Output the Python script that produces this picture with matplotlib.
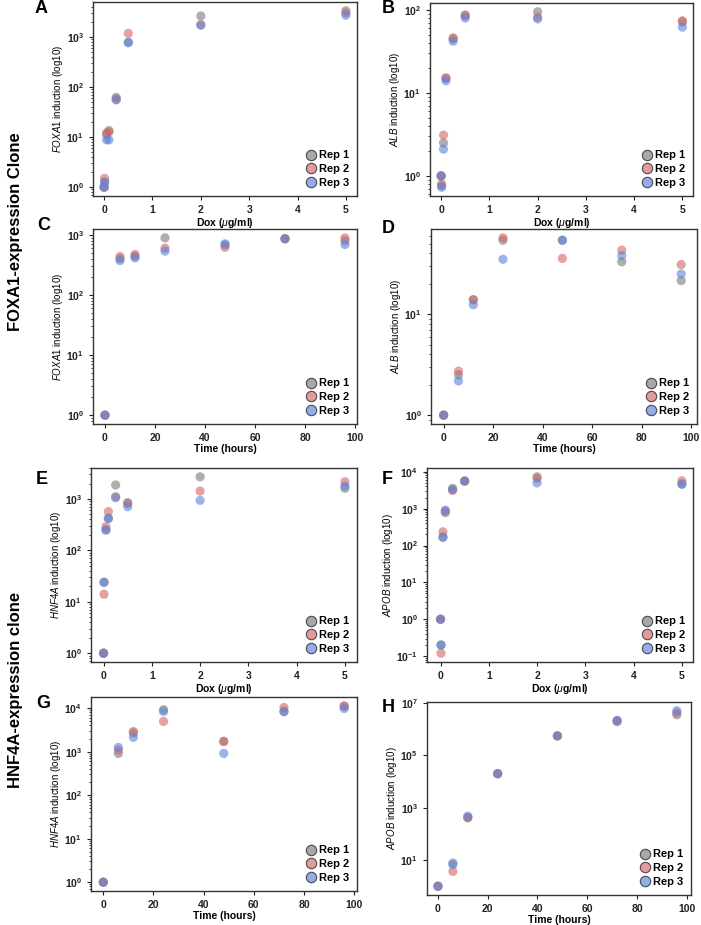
import numpy as np
import matplotlib
matplotlib.use("Agg")
import matplotlib.pyplot as plt
from matplotlib.ticker import FixedLocator, FuncFormatter, LogLocator, NullLocator

plt.rcParams['font.family'] = ['Liberation Sans', 'DejaVu Sans']
plt.rcParams['mathtext.fontset'] = 'custom'
plt.rcParams['mathtext.rm'] = 'Liberation Sans'
plt.rcParams['mathtext.it'] = 'Liberation Sans:italic'
plt.rcParams['mathtext.bf'] = 'Liberation Sans:bold'

# doses (ug/ml) and time points (hours)
dox = [0, 0.01, 0.05, 0.1, 0.25, 0.5, 2, 5]
hours = [0, 6, 12, 24, 48, 72, 96]

# A - FOXA1 clone, FOXA1 vs dox
a_rep1 = [1, 1.26, 12, 13.5, 62, 780, 2600, 3300]
a_rep2 = [1, 1.5, 11.3, 12.6, 57, 1170, 1750, 3000]
a_rep3 = [1, 1.26, 8.8, 8.8, 55, 760, 1700, 2700]
# B - FOXA1 clone, ALB vs dox
b_rep1 = [1, 0.76, 2.5, 15, 45, 87, 95, 72]
b_rep2 = [1, 0.8, 3.1, 15.2, 46, 85, 82, 74]
b_rep3 = [1, 0.73, 2.1, 14, 42, 80, 78, 62]
# C - FOXA1 clone, FOXA1 vs time
c_rep1 = [1, 400, 440, 890, 680, 860, 800]
c_rep2 = [1, 435, 470, 600, 620, 860, 890]
c_rep3 = [1, 373, 413, 535, 708, 860, 690]
# D - FOXA1 clone, ALB vs time
d_rep1 = [1, 2.5, 13.9, 54, 54, 33, 21.5]
d_rep2 = [1, 2.73, 13.9, 57, 35.7, 43, 31]
d_rep3 = [1, 2.18, 12.4, 35, 54, 38, 25]
# E - HNF4A clone, HNF4A vs dox
e_rep1 = [1, 24, 250, 420, 1870, 850, 2700, 1620]
e_rep2 = [1, 14, 290, 570, 1110, 820, 1430, 2170]
e_rep3 = [1, 24, 250, 420, 1060, 710, 940, 1790]
# F - HNF4A clone, APOB vs dox
f_rep1 = [1, 0.2, 168, 780, 3550, 5600, 7300, 4700]
f_rep2 = [1, 0.12, 235, 850, 3100, 5600, 6600, 5700]
f_rep3 = [1, 0.2, 168, 910, 3300, 5600, 5000, 4550]
# G - HNF4A clone, HNF4A vs time
g_rep1 = [1, 910, 2700, 9200, 1720, 8500, 11000]
g_rep2 = [1, 1090, 2900, 4950, 1720, 10350, 11300]
g_rep3 = [1, 1250, 2130, 8400, 910, 8230, 9800]
# H - HNF4A clone, APOB vs time
h_rep1 = [1, 7.7, 415, 20000, 560000, 2.1e6, 3.6e6]
h_rep2 = [1, 3.7, 415, 20000, 560000, 1.95e6, 4.3e6]
h_rep3 = [1, 6.7, 480, 20000, 560000, 2.2e6, 5.1e6]

rep_names = ['Rep 1', 'Rep 2', 'Rep 3']
rep_colors = ['#7a7a7a', '#d46464', '#5a82dc']

W, H = 701, 925
fig = plt.figure(figsize=(W / 100, H / 100), dpi=100)


def rect(l, t, r, b):
    return [l / W, 1 - b / H, (r - l) / W, (b - t) / H]


def panel(box, x, reps, gene, xlabel, xlim, ydecades, letter, lx, ly, minor=True):
    ax = fig.add_axes(rect(*box))
    for vals, c, name in zip(reps, rep_colors, rep_names):
        ax.scatter(x, vals, s=44, color=c, alpha=0.6, edgecolors='none', zorder=3)
    ax.set_yscale('log')
    ax.set_xlim(xlim)
    ax.yaxis.set_major_locator(FixedLocator([10.0 ** d for d in ydecades]))
    ax.yaxis.set_major_formatter(
        FuncFormatter(lambda v, p: r'$\mathbf{10^{%d}}$' % round(np.log10(v))))
    if minor:
        ax.yaxis.set_minor_locator(LogLocator(subs=np.arange(2, 10), numticks=20))
    else:
        ax.yaxis.set_minor_locator(NullLocator())
    if xlabel.startswith('Dox'):
        ax.set_xticks([0, 1, 2, 3, 4, 5])
    else:
        ax.set_xticks([0, 20, 40, 60, 80, 100])
    for lab in ax.get_xticklabels():
        lab.set_fontweight('bold')
    ax.tick_params(axis='both', which='major', labelsize=7.5, length=3, width=0.8,
                   direction='out', colors='#222222')
    ax.tick_params(axis='y', which='minor', length=1.8, width=0.6, colors='#222222')
    ax.set_xlabel(xlabel, fontsize=7.5, fontweight='bold', labelpad=1)
    ax.set_ylabel(r'$\mathit{%s}$ induction (log10)' % gene, fontsize=7, labelpad=1)
    for sp in ax.spines.values():
        sp.set_linewidth(1.0)
        sp.set_color('#333333')
    handles = [plt.Line2D([], [], marker='o', linestyle='none', markersize=7.5,
                          markerfacecolor=c, markeredgecolor='black',
                          markeredgewidth=0.8, alpha=0.65) for c in rep_colors]
    ax.legend(handles, rep_names, loc='lower right', frameon=False,
              prop={'size': 8, 'weight': 'bold'}, handletextpad=0.1,
              labelspacing=0.35, borderaxespad=0.3, handlelength=1.2)
    fig.text(lx / W, 1 - ly / H, letter, fontsize=13, fontweight='bold',
             ha='left', va='top')
    return ax


dox_label = r'Dox ($\mathit{\mu}$g/ml)'
time_label = 'Time (hours)'

panel((93, 2, 357, 196), dox, [a_rep1, a_rep2, a_rep3], 'FOXA1', dox_label,
      (-0.23, 5.23), [0, 1, 2, 3], 'A', 35, 0)
panel((430, 3, 693, 196), dox, [b_rep1, b_rep2, b_rep3], 'ALB', dox_label,
      (-0.23, 5.22), [0, 1, 2], 'B', 382, 0)
panel((93, 229, 357, 424), hours, [c_rep1, c_rep2, c_rep3], 'FOXA1', time_label,
      (-4.8, 100.8), [0, 1, 2, 3], 'C', 37, 217)
panel((431, 229, 697, 424), hours, [d_rep1, d_rep2, d_rep3], 'ALB', time_label,
      (-5.1, 102.4), [0, 1], 'D', 382, 220)
panel((91, 468, 357, 662), dox, [e_rep1, e_rep2, e_rep3], 'HNF4A', dox_label,
      (-0.26, 5.25), [0, 1, 2, 3], 'E', 36, 471)
panel((427, 468, 693, 662), dox, [f_rep1, f_rep2, f_rep3], 'APOB', dox_label,
      (-0.28, 5.23), [-1, 0, 1, 2, 3, 4], 'F', 382, 471)
panel((91, 697, 357, 891), hours, [g_rep1, g_rep2, g_rep3], 'HNF4A', time_label,
      (-4.9, 101.1), [0, 1, 2, 3, 4], 'G', 36, 695)
panel((427, 702, 691, 895), hours, [h_rep1, h_rep2, h_rep3], 'APOB', time_label,
      (-4.4, 101.7), [1, 3, 5, 7], 'H', 382, 699, minor=False)

fig.text(16 / W, 1 - 232 / H, 'FOXA1-expression Clone', rotation=90,
         fontsize=12, fontweight='bold', ha='center', va='center')
fig.text(16 / W, 1 - 690 / H, 'HNF4A-expression clone', rotation=90,
         fontsize=12, fontweight='bold', ha='center', va='center')

fig.savefig('out.png', dpi=100)
